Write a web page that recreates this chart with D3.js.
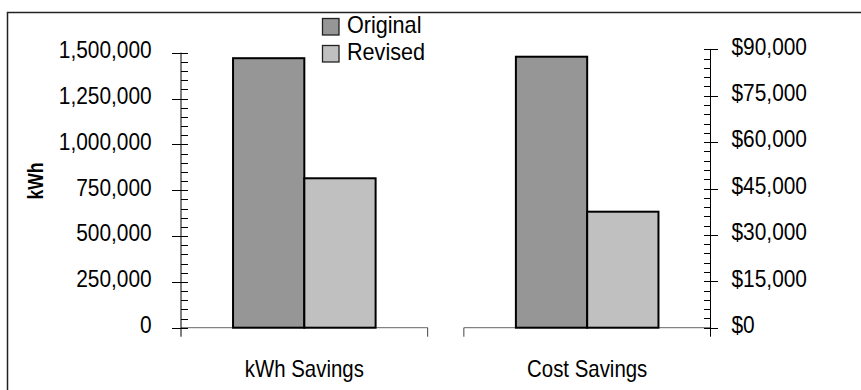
<!DOCTYPE html>
<html>
<head>
<meta charset="utf-8">
<script src="https://cdn.jsdelivr.net/npm/d3@7"></script>
<style>
  html, body { margin: 0; padding: 0; background: #fff; }
  svg { display: block; font-family: "Liberation Sans", Arial, sans-serif; }
</style>
</head>
<body>
<svg id="chart" width="861" height="390"></svg>
<script>
// ---- data ----
const categories = ["kWh Savings", "Cost Savings"];
const seriesNames = ["Original", "Revised"];
const originalValues = [1470000, 87600];
const revisedValues = [815000, 37500];
const kwhTicks = [0, 250000, 500000, 750000, 1000000, 1250000, 1500000];
const costTicks = [0, 15000, 30000, 45000, 60000, 75000, 90000];
const yTitle = "kWh";

// ---- setup ----
const svg = d3.select("#chart");
const colors = { Original: "#969696", Revised: "#c0c0c0" };

// outer border
svg.append("rect").attr("x", 7.5).attr("y", 12.5).attr("width", 900).attr("height", 420)
  .attr("fill", "none").attr("stroke", "#222").attr("stroke-width", 1.5);

const yBase = 327.7;
const yKwh = d3.scaleLinear().domain([0, 1500000]).range([yBase, 52.7]);
const yCost = d3.scaleLinear().domain([0, 90000]).range([yBase, 49.3]);
const yScales = [yKwh, yCost];

const x0 = d3.scaleBand().domain(categories).range([181, 710.5]).paddingInner(0.128).paddingOuter(0);
const x1 = d3.scaleBand().domain(seriesNames).range([0, x0.bandwidth()]).paddingInner(0).paddingOuter(0.73);

const rows = categories.map((c, i) => ({ cat: c, i, vals: [originalValues[i], revisedValues[i]] }));

// baselines with end ticks
rows.forEach(r => {
  const xa = x0(r.cat), xb = xa + x0.bandwidth();
  svg.append("line").attr("x1", xa).attr("x2", xb).attr("y1", yBase).attr("y2", yBase)
    .attr("stroke", "#666").attr("stroke-width", 1);
  const xe = r.i === 0 ? xb : xa;
  svg.append("line").attr("x1", xe).attr("x2", xe).attr("y1", yBase).attr("y2", yBase + 9)
    .attr("stroke", "#444").attr("stroke-width", 1);
});

// bars
rows.forEach(r => {
  const g = svg.append("g").attr("transform", `translate(${x0(r.cat)},0)`);
  const ys = yScales[r.i];
  g.selectAll("rect").data(seriesNames.map((s, k) => ({ s, v: r.vals[k] })))
    .join("rect")
    .attr("x", d => x1(d.s))
    .attr("y", d => ys(d.v))
    .attr("width", x1.bandwidth())
    .attr("height", d => ys(0) - ys(d.v))
    .attr("fill", d => colors[d.s])
    .attr("stroke", "#000").attr("stroke-width", 2);
});

// left axis
const leftX = x0(categories[0]);
const fmtK = d3.format(",");
const minorK = d3.range(0, 1500001, 50000).filter(v => v % 250000 !== 0);
const gL = svg.append("g").attr("transform", `translate(${leftX},0)`);
gL.call(d3.axisLeft(yKwh).tickValues(kwhTicks).tickFormat(fmtK).tickSizeInner(9).tickSizeOuter(0).tickPadding(20.3));
gL.select(".domain").remove();
gL.append("g").call(d3.axisRight(yKwh).tickValues(kwhTicks.concat(minorK)).tickFormat("").tickSizeInner(7).tickSizeOuter(0))
  .select(".domain").remove();
gL.append("line").attr("x1", 0).attr("x2", 0).attr("y1", yKwh(1500000)).attr("y2", yBase + 9).attr("stroke", "#000");

// right axis
const rightX = x0(categories[1]) + x0.bandwidth();
const fmtC = v => "$" + d3.format(",")(v);
const minorC = d3.range(0, 90001, 3000).filter(v => v % 15000 !== 0);
const gR = svg.append("g").attr("transform", `translate(${rightX},0)`);
gR.call(d3.axisRight(yCost).tickValues(costTicks).tickFormat(fmtC).tickSizeInner(7).tickSizeOuter(0).tickPadding(14));
gR.select(".domain").remove();
gR.append("g").call(d3.axisLeft(yCost).tickValues(costTicks.concat(minorC)).tickFormat("").tickSizeInner(7).tickSizeOuter(0))
  .select(".domain").remove();
gR.append("line").attr("x1", 0).attr("x2", 0).attr("y1", yCost(90000)).attr("y2", yBase + 9).attr("stroke", "#000");

[gL, gR].forEach(g => {
  g.selectAll(".tick line").attr("stroke", "#000").attr("shape-rendering", "crispEdges");
  g.selectAll(".tick text").attr("font-size", 24).attr("font-family", "Liberation Sans, Arial, sans-serif")
    .attr("fill", "#000").attr("dy", "0.2em").attr("data-c", 0.87);
});

// category labels
svg.append("g").selectAll("text").data(categories).join("text")
  .attr("data-c", 0.85)
  .attr("x", d => x0(d) + x0.bandwidth() / 2)
  .attr("y", 376.7)
  .attr("text-anchor", "middle")
  .attr("font-size", 24)
  .attr("fill", "#000")
  .text(d => d);

// y title
svg.append("text")
  .attr("transform", "translate(42.5,181) rotate(-90) scale(0.8,1)")
  .attr("text-anchor", "middle")
  .style("font-size", "22px").style("font-weight", "bold")
  .style("font-family", "'Liberation Sans', Arial, sans-serif")
  .attr("fill", "#000")
  .text(yTitle);

// legend
const lg = svg.append("g").attr("transform", "translate(322.5,18.5)");
const li = lg.selectAll("g").data(seriesNames).join("g").attr("transform", (d, i) => `translate(0,${i * 27})`);
li.append("rect").attr("width", 16.5).attr("height", 16.5).attr("fill", d => colors[d])
  .attr("stroke", "#222").attr("stroke-width", 1.3);
li.append("text").attr("data-c", 0.9).attr("x", 24.5).attr("y", 14.5).attr("font-size", 24).attr("fill", "#000").text(d => d);

// condense text horizontally
svg.selectAll("text[data-c]").each(function () {
  const L = this.getComputedTextLength();
  const c = +this.getAttribute("data-c");
  if (L > 0) d3.select(this).attr("textLength", L * c).attr("lengthAdjust", "spacingAndGlyphs");
});
</script>
</body>
</html>
